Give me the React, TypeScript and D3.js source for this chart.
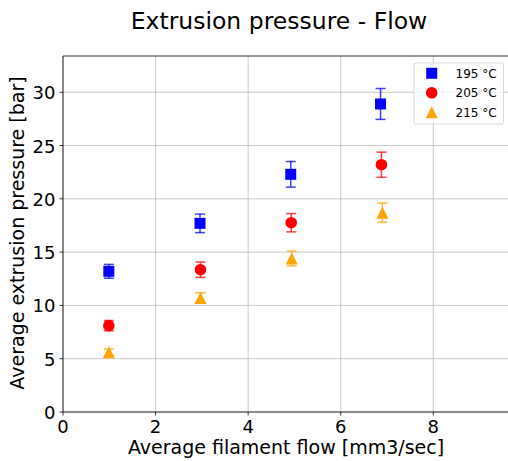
import React from "react";
import * as d3 from "d3";

const flows195 = [0.99, 2.96, 4.92, 6.86];
const pressure195 = [13.2, 17.7, 22.3, 28.9];
const err195 = [0.65, 0.87, 1.2, 1.45];

const flows205 = [0.99, 2.97, 4.93, 6.88];
const pressure205 = [8.1, 13.35, 17.76, 23.2];
const err205 = [0.48, 0.72, 0.86, 1.18];

const flows215 = [0.99, 2.97, 4.94, 6.9];
const pressure215 = [5.6, 10.7, 14.4, 18.7];
const err215 = [0.3, 0.5, 0.7, 0.9];

const seriesLabels = ["195 °C", "205 °C", "215 °C"];
const xTicks = [0, 2, 4, 6, 8];
const yTicks = [0, 5, 10, 15, 20, 25, 30];

const W = 508;
const H = 461;
const font = "DejaVu Sans, sans-serif";

export default function App() {
  const x = d3.scaleLinear().domain([0, 9.7]).range([63, 512]);
  const y = d3.scaleLinear().domain([0, 33.4]).range([412, 56]);
  const left = 63, right = 512, top = 56, bottom = 412;

  const series = [
    { xs: flows195, ys: pressure195, es: err195, color: "#0000ff", shape: "square" },
    { xs: flows205, ys: pressure205, es: err205, color: "#ff0000", shape: "circle" },
    { xs: flows215, ys: pressure215, es: err215, color: "#ffa500", shape: "triangle" },
  ];

  const marker = (shape: string, cx: number, cy: number, color: string, key: string) => {
    if (shape === "square") return <rect key={key} x={cx - 5.5} y={cy - 5.5} width={11} height={11} fill={color} />;
    if (shape === "circle") return <circle key={key} cx={cx} cy={cy} r={5.8} fill={color} />;
    const r = 6;
    return <path key={key} d={`M${cx},${cy - r}L${cx - r},${cy + r}L${cx + r},${cy + r}Z`} fill={color} />;
  };

  return (
    <svg width={W} height={H} style={{ position: "absolute", left: 0, top: 0 }} fontFamily={font}>
      <rect x={0} y={0} width={W} height={H} fill="#fff" />
      <defs>
        <clipPath id="plot">
          <rect x={left} y={top} width={right - left} height={bottom - top} />
        </clipPath>
      </defs>
      {/* grid */}
      {xTicks.map((t) => (
        <line key={"gx" + t} x1={x(t)} x2={x(t)} y1={top} y2={bottom} stroke="#b0b0b0" strokeOpacity={0.7} strokeWidth={1} />
      ))}
      {yTicks.map((t) => (
        <line key={"gy" + t} x1={left} x2={right} y1={y(t)} y2={y(t)} stroke="#b0b0b0" strokeOpacity={0.7} strokeWidth={1} />
      ))}
      {/* data */}
      <g clipPath="url(#plot)">
        {series.map((s, si) =>
          s.xs.map((xv, i) => {
            const cx = x(xv);
            const y1 = y(s.ys[i] + s.es[i]);
            const y2 = y(s.ys[i] - s.es[i]);
            return (
              <g key={`e${si}-${i}`} stroke={s.color} strokeOpacity={0.75} strokeWidth={1.5}>
                <line x1={cx} x2={cx} y1={y1} y2={y2} />
                <line x1={cx - 5} x2={cx + 5} y1={y1} y2={y1} />
                <line x1={cx - 5} x2={cx + 5} y1={y2} y2={y2} />
              </g>
            );
          })
        )}
        {series.map((s, si) => s.xs.map((xv, i) => marker(s.shape, x(xv), y(s.ys[i]), s.color, `m${si}-${i}`)))}
      </g>
      {/* spines */}
      <line x1={left} x2={left} y1={top} y2={bottom} stroke="#000" strokeWidth={0.8} />
      <line x1={left} x2={right} y1={bottom} y2={bottom} stroke="#000" strokeWidth={0.8} />
      <line x1={left} x2={right} y1={top} y2={top} stroke="#000" strokeWidth={0.8} />
      {/* ticks */}
      {xTicks.map((t) => (
        <g key={"tx" + t}>
          <line x1={x(t)} x2={x(t)} y1={bottom} y2={bottom + 3.5} stroke="#000" strokeWidth={0.8} />
          <text x={x(t)} y={433.3} textAnchor="middle" fontSize={18} fill="#000">{t}</text>
        </g>
      ))}
      {yTicks.map((t) => (
        <g key={"ty" + t}>
          <line x1={left - 3.5} x2={left} y1={y(t)} y2={y(t)} stroke="#000" strokeWidth={0.8} />
          <text x={left - 7.5} y={y(t) + 7} textAnchor="end" fontSize={18} fill="#000">{t}</text>
        </g>
      ))}
      {/* labels */}
      <text x={286} y={454.3} textAnchor="middle" fontSize={19} fill="#000">Average filament flow [mm3/sec]</text>
      <text transform={`translate(24,233) rotate(-90)`} textAnchor="middle" fontSize={19} fill="#000">Average extrusion pressure [bar]</text>
      <text x={279} y={28.5} textAnchor="middle" fontSize={23.5} fill="#000">Extrusion pressure - Flow</text>
      {/* legend */}
      <rect x={414} y={63} width={89.5} height={61} rx={2} fill="#fff" fillOpacity={0.8} stroke="#d9d9d9" strokeWidth={1} />
      {seriesLabels.map((lab, i) => {
        const ly = 73.3 + i * 19.5;
        return (
          <g key={"l" + i}>
            {marker(series[i].shape, 431.7, ly, series[i].color, "lm" + i)}
            <text x={455.5} y={ly + 4.3} fontSize={12} fill="#000">{lab}</text>
          </g>
        );
      })}
    </svg>
  );
}
